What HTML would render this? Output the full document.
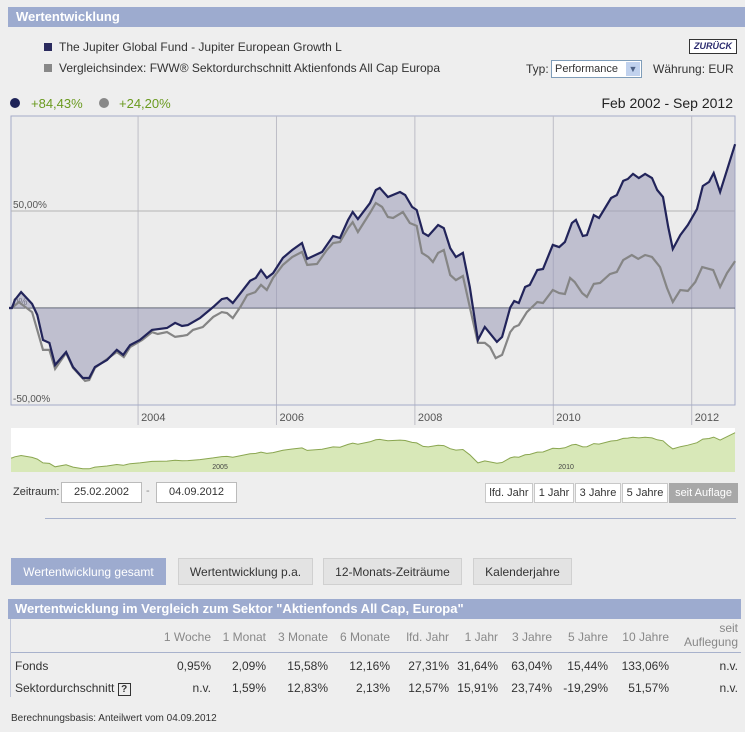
<!DOCTYPE html>
<html><head><meta charset="utf-8">
<style>
body{margin:0;background:#eeeeee;font-family:"Liberation Sans",sans-serif;color:#333;}
#page{position:relative;width:745px;height:732px;overflow:hidden;background:#eeeeee;}
.abs{position:absolute;white-space:nowrap;}
.hdr{background:#9dabcf;color:#fff;font-weight:bold;}
.btn{position:absolute;background:#fff;border:1px solid #c8c8c8;font-size:11px;text-align:center;line-height:18px;height:18px;top:483px;}
.tab{position:absolute;top:558px;height:27px;line-height:27px;font-size:12px;text-align:center;background:#e3e3e3;border:1px solid #d0d0d0;box-sizing:border-box;}
.c{position:absolute;text-align:right;font-size:12px;}
</style></head>
<body><div id="page">
<div class="abs hdr" style="left:8px;top:7px;width:737px;height:20px;line-height:20px;font-size:13px;padding-left:8px;box-sizing:border-box;">Wertentwicklung</div>

<div class="abs" style="left:44px;top:43px;width:8px;height:8px;background:#2a2a5e;"></div>
<div class="abs" style="left:59px;top:40px;font-size:12px;">The Jupiter Global Fund - Jupiter European Growth L</div>
<div class="abs" style="left:44px;top:64px;width:8px;height:8px;background:#888;"></div>
<div class="abs" style="left:59px;top:61px;font-size:12px;">Vergleichsindex: FWW® Sektordurchschnitt Aktienfonds All Cap Europa</div>

<div class="abs" style="left:689px;top:39px;width:46px;height:13px;border:1px solid #333;background:#fff;color:#2a2a6e;font-size:9px;font-weight:bold;font-style:italic;text-align:center;line-height:13px;">ZURÜCK</div>
<div class="abs" style="left:526px;top:62px;font-size:12px;">Typ:</div>
<div class="abs" style="left:551px;top:60px;width:86px;height:16px;border:1px solid #7f9db9;background:#fff;font-size:11px;line-height:16px;padding-left:3px;box-sizing:content-box;">Performance<span style="position:absolute;right:1px;top:1px;width:14px;height:14px;background:#c1d2ee;color:#4d6185;font-size:9px;text-align:center;line-height:14px;">▼</span></div>
<div class="abs" style="left:653px;top:62px;font-size:12px;">Währung: EUR</div>

<div class="abs" style="left:10px;top:98px;width:10px;height:10px;border-radius:5px;background:#1e2358;"></div>
<div class="abs" style="left:31px;top:96px;font-size:13px;color:#6a9a1f;">+84,43%</div>
<div class="abs" style="left:99px;top:98px;width:10px;height:10px;border-radius:5px;background:#888;"></div>
<div class="abs" style="left:119px;top:96px;font-size:13px;color:#6a9a1f;">+24,20%</div>
<div class="abs" style="right:12px;top:95px;font-size:14px;color:#222;">Feb 2002 - Sep 2012</div>

<svg id="chart" class="abs" style="left:0;top:0;" width="745" height="480"></svg>

<div class="abs" style="left:13px;top:486px;font-size:11px;">Zeitraum:</div>
<div class="abs" style="left:61px;top:482px;width:79px;height:19px;border:1px solid #bbb;background:#fff;font-size:11px;text-align:center;line-height:19px;">25.02.2002</div>
<div class="abs" style="left:146px;top:485px;font-size:11px;color:#888;">-</div>
<div class="abs" style="left:156px;top:482px;width:79px;height:19px;border:1px solid #bbb;background:#fff;font-size:11px;text-align:center;line-height:19px;">04.09.2012</div>
<div class="btn" style="left:485px;width:46px;">lfd. Jahr</div>
<div class="btn" style="left:534px;width:38px;">1 Jahr</div>
<div class="btn" style="left:575px;width:44px;">3 Jahre</div>
<div class="btn" style="left:622px;width:44px;">5 Jahre</div>
<div class="btn" style="left:669px;width:67px;background:#a8a8a8;border-color:#a8a8a8;color:#fff;">seit Auflage</div>
<div class="abs" style="left:45px;top:518px;width:691px;height:1px;background:#a8b2cc;"></div>

<div class="tab" style="left:11px;width:155px;background:#9dabcf;border-color:#9dabcf;color:#fff;">Wertentwicklung gesamt</div>
<div class="tab" style="left:178px;width:135px;">Wertentwicklung p.a.</div>
<div class="tab" style="left:323px;width:139px;">12-Monats-Zeiträume</div>
<div class="tab" style="left:473px;width:99px;">Kalenderjahre</div>

<div class="abs hdr" style="left:8px;top:599px;width:733px;height:20px;line-height:20px;font-size:13px;padding-left:7px;box-sizing:border-box;">Wertentwicklung im Vergleich zum Sektor "Aktienfonds All Cap, Europa"</div>
<div class="abs" style="left:10px;top:619px;width:1px;height:78px;background:#c0c6d8;"></div>
<div class="abs" style="left:11px;top:652px;width:730px;height:1px;background:#a8b2cc;"></div>
<div id="tbl"></div>

<div class="abs" style="left:11px;top:713px;font-size:10px;">Berechnungsbasis: Anteilwert vom 04.09.2012</div>
</div>

<script>
const fundMonths=[0,0.5,1.0,2.1,4.0,4.9,5.9,7.0,8.0,9.9,11.1,12.8,13.9,14.9,17.0,18.7,19.8,21.0,22.7,24.8,27.4,28.8,30.0,31.0,33.1,35.4,36.9,37.8,38.8,41.8,42.8,43.7,44.7,45.8,47.5,49.1,50.8,51.7,54.3,56.2,57.4,58.8,59.6,60.5,62.6,63.6,64.3,65.7,67.8,68.7,69.9,70.7,71.8,72.7,74.4,75.4,76.5,77.5,78.7,79.9,81.3,82.5,84.6,85.5,86.9,87.6,88.4,89.5,90.3,91.6,92.6,94.3,95.4,96.4,97.6,98.3,99.5,100.2,101.4,102.3,104.4,105.4,106.5,107.3,108.2,109.2,110.3,111.5,112.4,113.4,114.3,115.1,116.4,117.7,119.3,120.3,121.4,122.2,123.3,124.5,125.9];
const fundValues=[0,0,4.1,8.2,2.1,-3.6,-16.5,-18.0,-29.4,-22.7,-30.4,-36.1,-36.1,-30.4,-26.8,-21.6,-24.2,-19.1,-16.5,-11.3,-10.3,-7.7,-9.3,-8.8,-5.2,0.5,4.6,5.2,2.6,14.0,15.5,19.6,15.5,18.0,25.8,29.9,33.5,25.3,28.9,37.1,36.1,45.4,49.5,45.9,54.1,60.8,61.9,57.2,59.8,58.2,52.1,50.5,38.7,37.1,42.8,41.2,30.9,26.3,28.4,10.8,-16.5,-9.8,-17.5,-14.9,0.2,3.6,2.6,10.8,11.9,19.6,20.1,32.5,31.4,34.0,43.8,45.4,37.1,37.6,47.9,46.4,56.7,58.2,65.5,66.5,69.1,67.0,69.1,67.0,60.8,57.2,41.8,30.4,37.6,42.8,51.0,62.9,65.0,69.6,59.8,71.1,84.43];
const indexMonths=[0,0.5,1.7,4.0,5.9,7.0,8.0,9.9,11.1,13.2,13.9,14.9,18.7,19.9,21.0,23.1,24.8,25.8,27.4,28.8,30.0,30.9,31.9,33.6,35.4,36.9,37.8,38.8,40.1,41.3,42.7,43.7,44.7,45.8,47.5,49.1,50.8,51.7,53.4,55.1,56.2,57.4,58.8,59.6,60.5,62.6,63.6,64.7,65.7,66.6,68.3,69.5,70.7,71.6,72.7,73.5,74.4,75.4,76.5,77.5,78.7,79.9,81.3,82.5,83.4,84.4,85.5,86.9,87.6,88.4,89.8,91.6,92.6,94.3,95.4,96.4,97.3,98.1,99.4,100.2,101.4,102.5,104.2,105.4,106.5,108.0,109.1,110.3,111.5,112.9,114.1,115.1,116.4,117.7,119.0,120.2,122.1,123.3,124.5,125.9];
const indexValues=[0,0,3.1,-2.1,-21.6,-21.6,-31.4,-23.2,-30.9,-37.6,-37.1,-30.9,-22.7,-25.3,-20.1,-16.5,-12.4,-13.4,-12.4,-14.9,-14.4,-13.9,-11.3,-9.8,-4.6,-2.1,-2.6,-5.2,0.5,6.7,8.2,11.9,9.3,15.5,22.2,26.3,28.9,22.2,22.7,29.9,33.5,34.0,41.2,44.3,39.2,49.0,54.1,52.1,46.9,46.4,49.5,43.8,42.3,28.4,26.3,23.7,28.4,29.9,17.0,14.4,16.5,0.5,-18.0,-18.0,-20.1,-25.8,-24.2,-12.4,-9.8,-8.8,-2.1,3.1,2.6,9.3,7.7,7.2,15.5,13.4,7.7,5.7,12.4,12.9,17.5,18.6,24.7,27.3,25.3,27.3,26.3,21.1,10.3,3.1,9.3,8.8,13.4,21.1,19.6,10.8,18.0,24.20];
const yTicks=[50,0,-50];
const yTickLabels=["50,00%","0%","-50,00%"];
const xTickYears=[2004,2006,2008,2010,2012];
const miniLabels=[2005,2010];

const NS="http://www.w3.org/2000/svg";
const svg=document.getElementById('chart');
const PL=11,PR=735,PT=116,PB=405;
function xM(m){return 9+m*5.767;}
function xY(y){return xM((y-2002.135)*12);}
function yV(v){return 308-v*1.94;}
function yMini(v){return 458-v*0.3;}
function mk(tag,attrs){const e=document.createElementNS(NS,tag);for(const k in attrs)e.setAttribute(k,attrs[k]);svg.appendChild(e);return e;}

let e=mk('rect',{x:PL,y:PT,width:PR-PL,height:PB-PT,fill:'#ececec',stroke:'#a4abc8'});


xTickYears.forEach(yr=>{
  const x=xY(yr);
  const l=mk('line',{x1:x,x2:x,y1:PT,y2:425,stroke:'#bdbdc6'});
  
  
  const t=mk('text',{x:x+3,y:421,'font-size':11,fill:'#555','font-family':'Liberation Sans'});
  t.textContent=yr;
  
  
});
yTicks.forEach((v,i)=>{
  const y=yV(v);
  if(v!==-50){
    const l=mk('line',{x1:PL,x2:PR,y1:y,y2:y,stroke:v===0?'#4a4f5e':'#b5b5b5'});
    
    
  }
  const t=mk('text',{x:13,y:y-3,'font-size':10,fill:'#555','font-family':'Liberation Sans'});
  t.textContent=yTickLabels[i];
  
  
});
let d='M'+xM(fundMonths[0])+','+yV(0);
fundMonths.forEach((m,i)=>{d+=' L'+xM(m).toFixed(1)+','+yV(fundValues[i]).toFixed(1);});
d+=' L'+xM(fundMonths[fundMonths.length-1]).toFixed(1)+','+yV(0)+' Z';
e=mk('path',{d:d,fill:'#9a9bb8','fill-opacity':0.55,stroke:'none'});


let pi=indexMonths.map((m,i)=>xM(m).toFixed(1)+','+yV(indexValues[i]).toFixed(1)).join(' ');
e=mk('polyline',{points:pi,fill:'none',stroke:'#858585','stroke-width':2.2});


let pf=fundMonths.map((m,i)=>xM(m).toFixed(1)+','+yV(fundValues[i]).toFixed(1)).join(' ');
e=mk('polyline',{points:pf,fill:'none',stroke:'#22245a','stroke-width':2.2});


e=mk('line',{x1:PL,x2:PR,y1:PB,y2:PB,stroke:'#a4abc8'});


e=mk('rect',{x:PL,y:428,width:PR-PL,height:44,fill:'#ffffff'});


let md='M'+PL+',472';
fundMonths.forEach((m,i)=>{md+=' L'+Math.max(PL,xM(m)).toFixed(1)+','+yMini(fundValues[i]).toFixed(1);});
md+=' L'+PR+','+yMini(fundValues[fundValues.length-1]).toFixed(1)+' L'+PR+',472 Z';
e=mk('path',{d:md,fill:'#d8e8b8',stroke:'none'});


let mp=fundMonths.map((m,i)=>Math.max(PL,xM(m)).toFixed(1)+','+yMini(fundValues[i]).toFixed(1)).join(' ');
e=mk('polyline',{points:mp,fill:'none',stroke:'#8aa650','stroke-width':1});


miniLabels.forEach(yr=>{
  const t=mk('text',{x:xY(yr)+5,y:469,'font-size':7,fill:'#444','font-family':'Liberation Sans'});
  t.textContent=yr;
  
  
});

const cols=["1 Woche","1 Monat","3 Monate","6 Monate","lfd. Jahr","1 Jahr","3 Jahre","5 Jahre","10 Jahre"];
const colRight=[211,266,328,390,449,498,552,608,669,738];
const fondsVals=["0,95%","2,09%","15,58%","12,16%","27,31%","31,64%","63,04%","15,44%","133,06%","n.v."];
const sektorVals=["n.v.","1,59%","12,83%","2,13%","12,57%","15,91%","23,74%","-19,29%","51,57%","n.v."];
const tbl=document.getElementById('tbl');
function cell(txt,right,top,color,name){
  const d=document.createElement('div');
  d.className='c';d.style.right=(745-right)+'px';d.style.top=top+'px';d.style.color=color;
  d.innerHTML=txt;
  
  
  tbl.appendChild(d);
}
cols.forEach((c,i)=>cell(c,colRight[i],630,'#888','col-header'));
cell('seit<br>Auflegung',colRight[9],621,'#888','col-header');
fondsVals.forEach((v,i)=>cell(v,colRight[i],659,'#333','fonds-value'));
sektorVals.forEach((v,i)=>cell(v,colRight[i],681,'#333','sektor-value'));
let lab=document.createElement('div');lab.className='abs';lab.style.cssText='left:15px;top:659px;font-size:12px;';lab.textContent='Fonds';


tbl.appendChild(lab);
lab=document.createElement('div');lab.className='abs';lab.style.cssText='left:15px;top:681px;font-size:12px;';lab.innerHTML='Sektordurchschnitt <span style="display:inline-block;border:1px solid #333;width:11px;height:11px;line-height:11px;text-align:center;font-size:10px;font-weight:bold;">?</span>';


tbl.appendChild(lab);
</script>
</body></html>
